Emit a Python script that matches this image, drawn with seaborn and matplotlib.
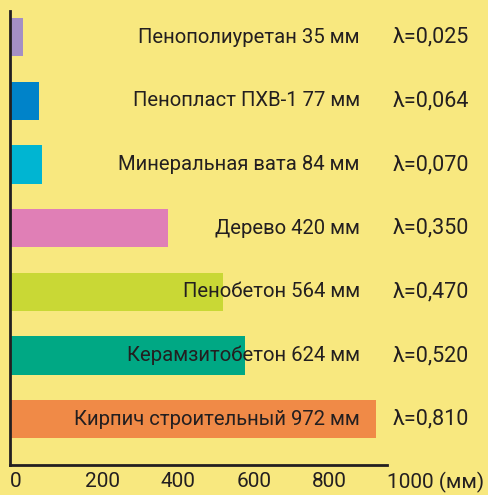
import seaborn as sns
import pandas as pd
import matplotlib.pyplot as plt

# materials, equivalent wall thickness (mm) and thermal conductivity
materials = ['Пенополиуретан', 'Пенопласт ПХВ-1', 'Минеральная вата', 'Дерево',
             'Пенобетон', 'Керамзитобетон', 'Кирпич строительный']
thickness = [35, 77, 84, 420, 564, 624, 972]
lambdas = ['0,025', '0,064', '0,070', '0,350', '0,470', '0,520', '0,810']
colors = ['#a48fc4', '#0083c9', '#00b5d2', '#e07fb6', '#c9d835', '#00a884', '#f08a47']
xticks = [0, 200, 400, 600, 800, 1000]
xtick_labels = ['0', '200', '400', '600', '800', '1000 (мм)']

df = pd.DataFrame({'material': materials, 'mm': thickness})

sns.set_style('white')
plt.rcParams['font.family'] = ['Roboto', 'DejaVu Sans']
bg = '#f8e87f'
ink = '#231f20'

fig = plt.figure(figsize=(4.88, 4.95), dpi=100, facecolor=bg)
ax = fig.add_axes([10 / 488, 30 / 495, 478 / 488, 454 / 495])
ax.set_facecolor(bg)

sns.barplot(data=df, x='mm', y='material', hue='material', palette=colors,
            orient='h', width=0.6, legend=False, ax=ax, saturation=1,
            linewidth=0, edgecolor='none')

ax.set_xlim(0, 1268)
ax.set_ylim(6.72, -0.41)

for i, (m, t, l) in enumerate(zip(materials, thickness, lambdas)):
    ax.text(928, i, f'{m} {t} мм', ha='right', va='center', fontsize=14.6,
            color=ink)
    ax.text(1016, i, f'λ={l}', ha='left', va='center', fontsize=15.5,
            color=ink)

for s in ['top', 'right']:
    ax.spines[s].set_visible(False)
ax.spines['bottom'].set_bounds(0, 1000)
for s in ['left', 'bottom']:
    ax.spines[s].set_linewidth(2)
    ax.spines[s].set_color(ink)

ax.set_yticks([])
ax.set_xticks(xticks)
ax.set_xticklabels(xtick_labels, ha='left', fontsize=15, color=ink)
ax.tick_params(axis='x', direction='in', length=6, width=2, color=ink, pad=5)
ax.set_xlabel('')
ax.set_ylabel('')

fig.savefig('out.png', dpi=100, facecolor=bg)
